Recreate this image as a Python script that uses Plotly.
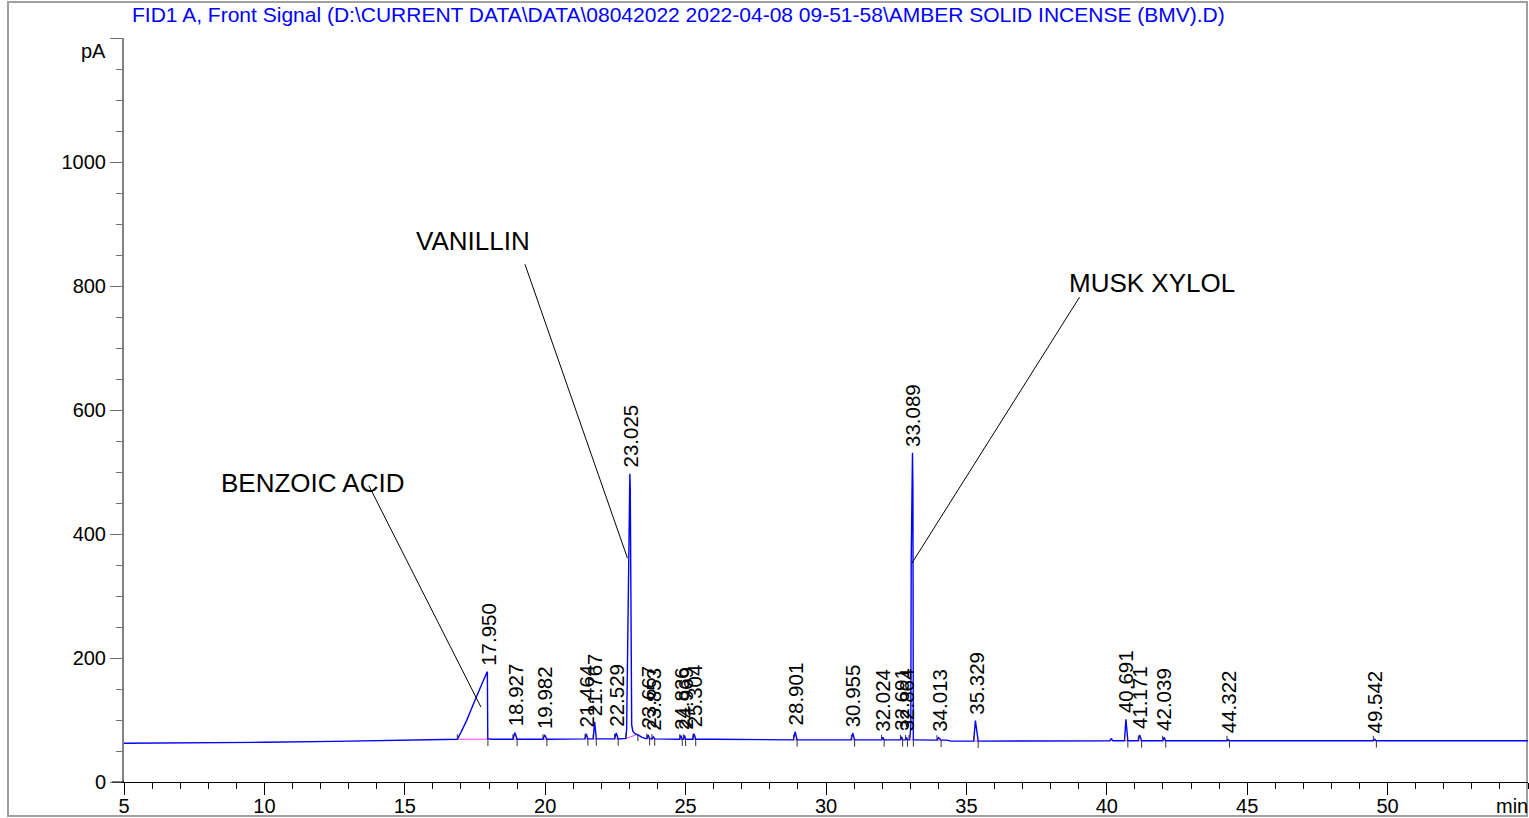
import plotly.graph_objects as go

# ---------------- data ----------------
TITLE = "FID1 A, Front Signal (D:\\CURRENT DATA\\DATA\\08042022 2022-04-08 09-51-58\\AMBER SOLID INCENSE (BMV).D)"

# baseline of the detector signal (min, pA)
baseline_t = [5.0, 7.5, 10.0, 12.5, 14.0, 15.5, 16.8, 18.5, 20.5, 22.0, 22.8, 24.2, 26.0, 27.0,
              29.5, 31.5, 32.5, 33.5, 34.3, 34.45, 36.0, 38.0, 40.1, 40.16, 40.22, 45.0, 50.0,
              53.6, 53.7, 53.8, 55.0]
baseline_v = [62.5, 63.0, 64.0, 65.5, 67.0, 68.5, 69.0, 69.0, 69.0, 69.5, 70.0, 69.5, 69.0, 68.5,
              68.0, 68.0, 68.0, 67.5, 67.5, 66.0, 66.0, 66.5, 66.5, 69.5, 66.5, 66.5, 66.5,
              66.5, 67.5, 66.5, 66.5]

# integrated peaks: label, start, apex time, apex value, end, baseline level
peak_label = ["17.950", "18.927", "19.982", "21.464", "21.767", "22.529", "23.025", "23.667",
              "23.853", "24.836", "24.969", "25.304", "28.901", "30.955", "32.024", "32.691",
              "32.864", "33.089", "34.013", "35.329", "40.691", "41.171", "42.039", "44.322",
              "49.542"]
peak_start = [16.87, 18.85, 19.92, 21.42, 21.71, 22.47, 22.87, 23.62, 23.80, 24.79, 24.92, 25.26,
              28.84, 30.90, 31.98, 32.65, 32.83, 32.96, 33.95, 35.26, 40.63, 41.12, 41.99, 44.28,
              49.49]
peak_apex_t = [17.94, 18.92, 19.98, 21.46, 21.76, 22.53, 23.015, 23.66, 23.85, 24.83, 24.96, 25.30,
               28.90, 30.95, 32.02, 32.69, 32.86, 33.08, 34.01, 35.32, 40.68, 41.17, 42.04, 44.32,
               49.54]
peak_apex_v = [178, 79.5, 76, 78, 97, 79, 497, 76, 73, 75, 75, 78,
               81, 79, 72, 73, 72, 531, 71.5, 99, 101, 76, 72, 68.5, 69]
peak_end = [17.96, 19.00, 20.06, 21.52, 21.82, 22.60, 23.30, 23.72, 23.90, 24.88, 25.00, 25.36,
            28.97, 31.02, 32.07, 32.73, 32.90, 33.11, 34.10, 35.42, 40.75, 41.24, 42.10, 44.37,
            49.60]
peak_base_start = [69, 69, 69, 69.5, 69.5, 69.5, 70, 70, 69.5, 69, 69, 69,
                   68, 68, 68, 68, 68, 68, 67.5, 66, 66.5, 66.5, 66.5, 66.5, 66.5]
peak_base_end = [69, 69, 69, 69.5, 69.5, 69.5, 77, 70, 69.5, 69, 69, 69,
                 68, 68, 68, 68, 68, 68, 67.5, 66, 66.5, 66.5, 66.5, 66.5, 66.5]

# detailed profiles of the three main peaks
benzoic_t = [16.87, 17.0, 17.2, 17.4, 17.56, 17.79, 17.94, 17.955, 18.1]
benzoic_v = [69, 80, 99, 121, 139, 163, 178, 70, 69]
vanillin_t = [22.87, 22.90, 22.94, 22.98, 23.015, 23.03, 23.045, 23.06, 23.08, 23.12, 23.2, 23.3, 23.45, 23.58]
vanillin_v = [70, 85, 250, 430, 497, 470, 250, 120, 92, 82, 78, 76, 72, 70]
musk_t = [32.96, 32.99, 33.02, 33.035, 33.06, 33.08, 33.095, 33.10, 33.11, 33.2]
musk_v = [68, 72, 90, 360, 515, 531, 470, 150, 68, 68]
profiled = {"17.950": (benzoic_t, benzoic_v),
            "23.025": (vanillin_t, vanillin_v),
            "33.089": (musk_t, musk_v)}

# compound names: label text position and leader-line (from, to)
comp_name = ["BENZOIC ACID", "VANILLIN", "MUSK XYLOL"]
comp_text_t = [11.73, 17.42, 41.6]
comp_text_v = [482, 873, 805]
comp_line_t0 = [13.72, 19.28, 39.03]
comp_line_v0 = [478, 835, 782]
comp_line_t1 = [17.71, 22.93, 33.06]
comp_line_v1 = [121, 361, 353]

x_ticks = [5, 10, 15, 20, 25, 30, 35, 40, 45, 50]
y_ticks = [0, 200, 400, 600, 800, 1000, 1200]
y_ticktext = ["0", "200", "400", "600", "800", "1000", ""]

# ---------------- build the signal ----------------
pts = []
windows = []
for i, lab in enumerate(peak_label):
    if lab in profiled:
        tt, vv = profiled[lab]
        pts += list(zip(tt, vv))
        windows.append((tt[0], tt[-1]))
    else:
        pts += [(peak_start[i], peak_base_start[i]), (peak_apex_t[i], peak_apex_v[i]),
                (peak_end[i], peak_base_end[i])]
        windows.append((peak_start[i], peak_end[i]))
for t, v in zip(baseline_t, baseline_v):
    if not any(a <= t <= b for a, b in windows):
        pts.append((t, v))
pts.sort()
sig_t = [p[0] for p in pts]
sig_v = [p[1] for p in pts]

FONT = "Liberation Sans, Arial, sans-serif"
fig = go.Figure()

# integration baselines (magenta)
bx, by = [], []
for i in range(len(peak_label)):
    bx += [peak_start[i], peak_end[i], None]
    by += [peak_base_start[i], peak_base_end[i], None]
fig.add_trace(go.Scatter(x=bx, y=by, mode="lines", line=dict(color="#ff40ff", width=1),
                         hoverinfo="skip", showlegend=False))

# signal
fig.add_trace(go.Scatter(x=sig_t, y=sig_v, mode="lines", line=dict(color="#0000ff", width=1.4),
                         showlegend=False, name="FID1 A"))

# start / end markers of integration
mx, my = [], []
for i in range(len(peak_label)):
    mx += [peak_start[i], peak_start[i], None, peak_end[i], peak_end[i], None]
    my += [peak_base_start[i], peak_base_start[i] + 8, None,
           peak_base_end[i], peak_base_end[i] - 11, None]
fig.add_trace(go.Scatter(x=mx, y=my, mode="lines", line=dict(color="#303030", width=1),
                         hoverinfo="skip", showlegend=False))

annotations = []
for i, lab in enumerate(peak_label):
    annotations.append(dict(x=float(lab), y=peak_apex_v[i], xref="x", yref="y", text=lab,
                            showarrow=False, textangle=-90, xanchor="center", yanchor="bottom",
                            yshift=4, font=dict(family=FONT, size=20.5, color="#000000")))
shapes = []
for i, name in enumerate(comp_name):
    annotations.append(dict(x=comp_text_t[i], y=comp_text_v[i], xref="x", yref="y", text=name,
                            showarrow=False, xanchor="center", yanchor="middle",
                            font=dict(family=FONT, size=26, color="#000000")))
    shapes.append(dict(type="line", xref="x", yref="y", x0=comp_line_t0[i], y0=comp_line_v0[i],
                       x1=comp_line_t1[i], y1=comp_line_v1[i],
                       line=dict(color="#000000", width=1)))

PW, PH = 1404.0, 744.0
# title, units
annotations.append(dict(x=(678 - 124) / PW, y=1 + (38 - 15) / PH, xref="paper", yref="paper",
                        text=TITLE, showarrow=False, xanchor="center", yanchor="middle",
                        font=dict(family=FONT, size=21, color="#0000ff")))
annotations.append(dict(x=(93 - 124) / PW, y=1 + (38 - 51) / PH, xref="paper", yref="paper",
                        text="pA", showarrow=False, xanchor="center", yanchor="middle",
                        font=dict(family=FONT, size=20, color="#000000")))
annotations.append(dict(x=(1530 - 124) / PW, y=-(806 - 782) / PH, xref="paper", yref="paper",
                        text="min", showarrow=False, xanchor="right", yanchor="middle",
                        font=dict(family=FONT, size=20, color="#000000")))

# outer frame and x-axis stub to the left of the y axis
shapes.append(dict(type="rect", xref="paper", yref="paper",
                   x0=(8 - 124) / PW, x1=(1527 - 124) / PW,
                   y0=-(816 - 782) / PH, y1=1 + (38 - 2) / PH,
                   line=dict(color="#a0a0a0", width=2), layer="below"))
shapes.append(dict(type="line", xref="paper", yref="paper", x0=(112 - 124) / PW, x1=0,
                   y0=0, y1=0, line=dict(color="#000000", width=1)))

fig.update_layout(
    width=1529, height=818,
    margin=dict(l=124, r=1, t=38, b=36, autoexpand=False),
    paper_bgcolor="white", plot_bgcolor="white",
    showlegend=False,
    annotations=annotations, shapes=shapes,
    font=dict(family=FONT, size=20, color="#000000"),
)
fig.update_xaxes(range=[5, 55], tickmode="array", tickvals=x_ticks, automargin=False,
                 ticks="outside", ticklen=12, tickcolor="#000000", tickwidth=1,
                 ticklabelstandoff=-6,
                 showline=True, linecolor="#000000", linewidth=1, showgrid=False, zeroline=False,
                 tickfont=dict(family=FONT, size=20, color="#000000"),
                 minor=dict(tickmode="linear", tick0=5, dtick=1, ticks="outside", ticklen=6,
                            tickcolor="#000000", showgrid=False))
fig.update_yaxes(range=[0, 1200], tickmode="array", tickvals=y_ticks, ticktext=y_ticktext,
                 automargin=False,
                 ticks="outside", ticklen=12, tickcolor="#707070", tickwidth=1,
                 showline=True, linecolor="#808080", linewidth=2, showgrid=False, zeroline=False,
                 tickfont=dict(family=FONT, size=20, color="#000000"),
                 minor=dict(tickmode="linear", tick0=0, dtick=50, ticks="outside", ticklen=6,
                            tickcolor="#707070", showgrid=False))

fig.write_html("out.html", config={"displayModeBar": False},
               post_script="document.body.style.margin='0px';document.body.style.overflow='hidden';")
